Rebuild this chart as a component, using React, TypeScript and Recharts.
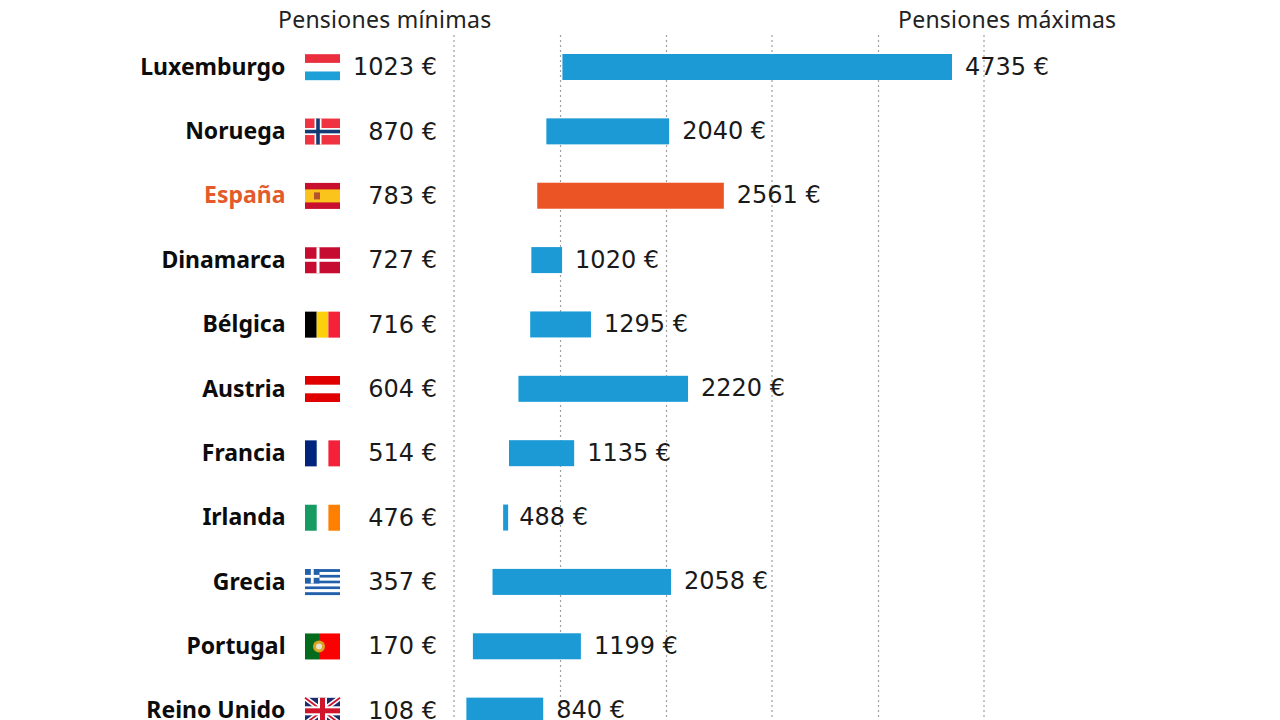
import React from "react";
import { BarChart, Bar, XAxis, YAxis, CartesianGrid, Cell, LabelList } from "recharts";

const countries = ["Luxemburgo", "Noruega", "España", "Dinamarca", "Bélgica", "Austria", "Francia", "Irlanda", "Grecia", "Portugal", "Reino Unido"];
const minimas = [1023, 870, 783, 727, 716, 604, 514, 476, 357, 170, 108];
const maximas = [4735, 2040, 2561, 1020, 1295, 2220, 1135, 488, 2058, 1199, 840];
const gridLines = [-10, 1005, 2015, 3020, 4035, 5040];
const headers = ["Pensiones mínimas", "Pensiones máximas"];
const highlighted = "España";

const data = countries.map((name, i) => ({ name, min: minimas[i], max: maximas[i] }));

const FONT = "'Noto Sans', sans-serif";
const VALUE_FONT = "'DejaVu Sans', sans-serif";
const W = 35;
const H = 26;
const MIN_BAR = 5;

function Flag({ name }: { name: string }) {
  const r = (x: number, y: number, w: number, h: number, fill: string, k?: number) => (
    <rect key={k} x={x} y={y} width={w} height={h} fill={fill} />
  );
  switch (name) {
    case "Luxemburgo":
      return <g>{r(0, 0, W, 8.7, "#ea2e3e")}{r(0, 17.3, W, 8.7, "#1d9fd8")}</g>;
    case "Noruega":
      return <g>{r(0, 0, W, H, "#ef3340")}{r(9.5, 0, 7, H, "#fff")}{r(0, 9.5, W, 7, "#fff")}{r(11.2, 0, 3.6, H, "#143a73")}{r(0, 11.2, W, 3.6, "#143a73")}</g>;
    case "España":
      return <g>{r(0, 0, W, H, "#c8102e")}{r(0, 6.5, W, 13, "#fbc41c")}{r(9, 9.5, 6, 7, "#b5532b")}</g>;
    case "Dinamarca":
      return <g>{r(0, 0, W, H, "#c60c30")}{r(11.5, 0, 3, H, "#fff")}{r(0, 11.5, W, 3, "#fff")}</g>;
    case "Bélgica":
      return <g>{r(0, 0, 11.7, H, "#000")}{r(11.7, 0, 11.7, H, "#fdd00e")}{r(23.4, 0, 11.6, H, "#f5213a")}</g>;
    case "Austria":
      return <g>{r(0, 0, W, 8.7, "#e00000")}{r(0, 17.3, W, 8.7, "#e00000")}</g>;
    case "Francia":
      return <g>{r(0, 0, 11.7, H, "#00247d")}{r(23.4, 0, 11.6, H, "#f5213a")}</g>;
    case "Irlanda":
      return <g>{r(0, 0, 11.7, H, "#169b62")}{r(23.4, 0, 11.6, H, "#ff7f00")}</g>;
    case "Grecia": {
      const stripes = [0, 1, 2, 3, 4, 5, 6, 7, 8];
      return (
        <g>
          {stripes.map((s) => r(0, (s * H) / 9, W, H / 9, s % 2 === 0 ? "#2360ab" : "#fff", s))}
          {r(0, 0, 14.5, 14.4, "#2360ab")}
          {r(5.8, 0, 2.9, 14.4, "#fff")}
          {r(0, 5.8, 14.5, 2.9, "#fff")}
        </g>
      );
    }
    case "Portugal":
      return <g>{r(0, 0, 14, H, "#046a1c")}{r(14, 0, 21, H, "#fa0000")}<circle cx={14} cy={13} r={6} fill="#d9a520" /><circle cx={14} cy={13} r={3} fill="#e8e0d0" /></g>;
    case "Reino Unido":
      return (
        <g>
          {r(0, 0, W, H, "#1c2a6e")}
          <path d={`M0 0L${W} ${H}M${W} 0L0 ${H}`} stroke="#fff" strokeWidth={5} />
          <path d={`M0 0L${W} ${H}M${W} 0L0 ${H}`} stroke="#cf142b" strokeWidth={1.8} />
          {r(13, 0, 9, H, "#fff")}
          {r(0, 8.5, W, 9, "#fff")}
          {r(15, 0, 5, H, "#cf142b")}
          {r(0, 10.5, W, 5, "#cf142b")}
        </g>
      );
    default:
      return null;
  }
}

function CountryTick(props: any) {
  const { y, payload } = props;
  const name: string = payload.value;
  return (
    <g>
      <text x={285.5} y={y} dy={7.5} textAnchor="end" fontFamily={FONT} fontWeight={700} fontSize={23}
        fill={name === highlighted ? "#e35a2b" : "#0c0c0c"}>
        {name}
      </text>
      <g transform={`translate(305, ${y - H / 2})`}>
        <Flag name={name} />
      </g>
      <text x={437} y={y} dy={8} textAnchor="end" fontFamily={VALUE_FONT} fontSize={24} fill="#1a1a1a">
        {`${minimas[countries.indexOf(name)]} €`}
      </text>
    </g>
  );
}

function RangeBar(props: any) {
  const { x, y, width, height, fill } = props;
  const w = Math.max(width, MIN_BAR);
  return <rect x={x + width / 2 - w / 2} y={y} width={w} height={height} fill={fill} />;
}

export default function App() {
  return (
    <div style={{ position: "fixed", left: 0, top: 0, width: 1280, height: 720, overflow: "hidden", background: "#fff" }}>
      <BarChart width={1280} height={760} data={data} layout="vertical"
        margin={{ top: 35, right: 296, bottom: 17, left: 0 }} barCategoryGap={19}>
        <CartesianGrid vertical horizontal={false} stroke="#a0a0a0" strokeWidth={1.2} strokeDasharray="2 3" />
        <XAxis type="number" hide domain={[-10, 5040]} ticks={gridLines} allowDataOverflow />
        <YAxis type="category" dataKey="name" width={454} axisLine={false} tickLine={false} interval={0} tick={<CountryTick />} />
        <Bar dataKey={(d: any) => [d.min, d.max]} barSize={26} isAnimationActive={false} fill="#1b9ad6" shape={<RangeBar />}>
          {data.map((d) => (
            <Cell key={d.name} fill={d.name === highlighted ? "#eb5424" : "#1b9ad6"} />
          ))}
          <LabelList dataKey="max" position="right" offset={13} dy={-1} fontFamily={VALUE_FONT} fontSize={24} fill="#1a1a1a"
            formatter={(v: any) => `${v} €`} />
        </Bar>
        <text x={278} y={28} fontFamily={FONT} fontSize={23} letterSpacing={0.25} fill="#222">{headers[0]}</text>
        <text x={898} y={28} fontFamily={FONT} fontSize={23} letterSpacing={0.25} fill="#222">{headers[1]}</text>
      </BarChart>
    </div>
  );
}
